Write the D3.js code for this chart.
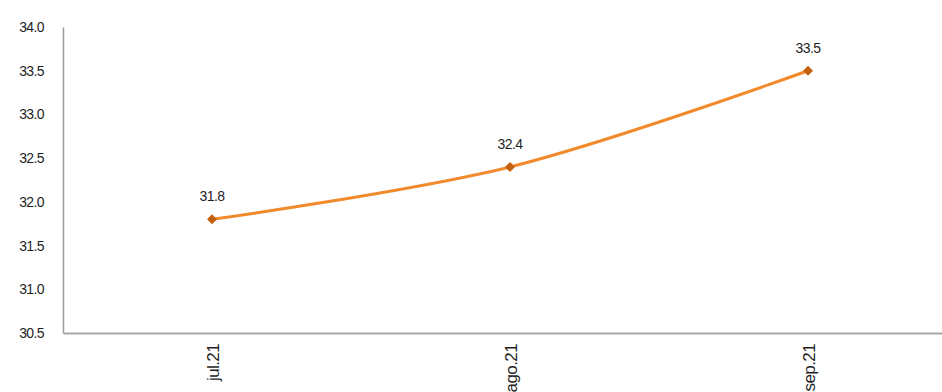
<!DOCTYPE html>
<html>
<head>
<meta charset="utf-8">
<script src="https://cdn.jsdelivr.net/npm/d3@7"></script>
<style>
  html, body { margin: 0; padding: 0; background: #fff; overflow: hidden; }
  svg { display: block; font-family: "Liberation Sans", Arial, sans-serif; }
</style>
</head>
<body>
<svg id="chart" width="942" height="392"></svg>
<script>
// Monthly series
const categories = ["jul.21", "ago.21", "sep.21"];
const values = [31.8, 32.4, 33.5];
const yTicks = [30.5, 31.0, 31.5, 32.0, 32.5, 33.0, 33.5, 34.0];

(function () {
  const svg = d3.select("#chart");
  const plotLeft = 63, plotRight = 957, plotTop = 27, plotBottom = 333;

  const x = d3.scalePoint().domain(categories).range([plotLeft, plotRight]).padding(0.5);
  const y = d3.scaleLinear().domain([30.5, 34.0]).range([plotBottom, plotTop]);

  // Y axis
  const yAxis = svg.append("g")
    .attr("transform", `translate(${plotLeft},0)`)
    .call(d3.axisLeft(y).tickValues(yTicks).tickFormat(d3.format(".1f")).tickSize(0).tickPadding(19));
  yAxis.select(".domain").attr("stroke", "#9a9a9a").attr("stroke-width", 1.5);
  yAxis.selectAll("text").attr("font-size", 14).attr("fill", "#1e1e1e").attr("letter-spacing", -0.6);

  // X axis
  const xAxis = svg.append("g")
    .attr("transform", `translate(0,${plotBottom})`)
    .call(d3.axisBottom(x).tickSize(0).tickPadding(0));
  xAxis.select(".domain").attr("stroke", "#a8a8a8").attr("stroke-width", 2);
  xAxis.selectAll("text")
    .attr("font-size", 17).attr("fill", "#1e1e1e").attr("letter-spacing", -0.6)
    .attr("text-anchor", "end")
    .attr("y", 0)
    .attr("dy", null)
    .attr("transform", "translate(6,11) rotate(-90)");

  // Line
  const pts = categories.map((c, i) => ({c, v: values[i]}));
  svg.append("path")
    .datum(pts)
    .attr("fill", "none")
    .attr("stroke", "#f28a2c")
    .attr("stroke-width", 3)
    .attr("d", d3.line().x(d => x(d.c)).y(d => y(d.v)).curve(d3.curveCatmullRom.alpha(0.5)));

  // Diamond markers
  svg.selectAll("path.marker")
    .data(pts)
    .join("path")
    .attr("class", "marker")
    .attr("transform", d => `translate(${x(d.c)},${y(d.v)})`)
    .attr("d", d3.symbol().type(d3.symbolDiamond2).size(64))
    .attr("fill", "#c4600e");

  // Value labels
  svg.selectAll("text.val")
    .data(pts)
    .join("text")
    .attr("class", "val")
    .attr("x", d => x(d.c))
    .attr("y", d => y(d.v) - 18)
    .attr("text-anchor", "middle")
    .attr("font-size", 14)
    .attr("letter-spacing", -0.6)
    .attr("fill", "#1e1e1e")
    .text(d => d3.format(".1f")(d.v));
})();
</script>
</body>
</html>
